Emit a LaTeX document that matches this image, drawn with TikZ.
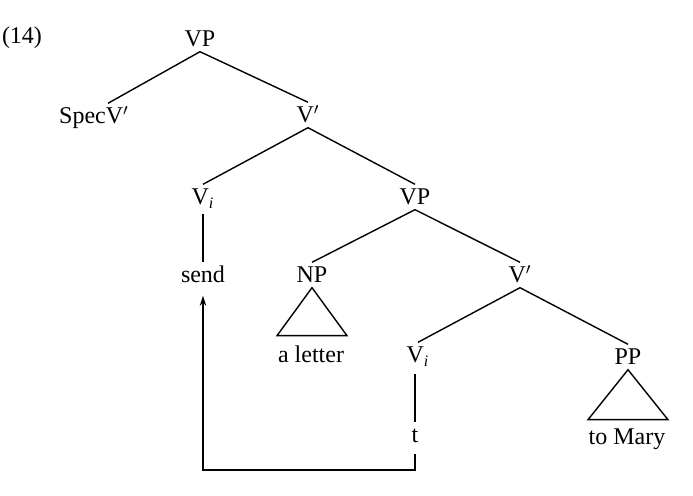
\documentclass[tikz,border=0pt]{standalone}
\usepackage{fontspec}
\setmainfont{Liberation Serif}
\usepackage{tikz}
\usetikzlibrary{arrows.meta}

\begin{document}
\begin{tikzpicture}[x=0.5pt, y=-0.5pt, >={Stealth[length=5pt,width=3.2pt]}, line width=0.7pt,
    lbl/.style={font=\fontsize{12}{14}\selectfont, inner sep=1pt, text height=9pt, text depth=1pt, anchor=base}]
        \useasboundingbox (0,0) rectangle (693,496);

        \node (num) [lbl] at (22,44) {(14)};
        \node (vp1) [lbl] at (200,47) {VP};
        \node (spec) [lbl] at (94,124) {SpecV$'$};
        \node (vb1) [lbl] at (308,123) {V$'$};
        \node (vi1) [lbl] at (203,205) {V\textsubscript{\textit{i}}};
        \node (vp2) [lbl] at (415,205) {VP};
        \node (send) [lbl] at (203,283) {send};
        \node (np) [lbl] at (312,283) {NP};
        \node (vb2) [lbl] at (520,283) {V$'$};
        \node (letter) [lbl] at (311,363) {a letter};
        \node (vi2) [lbl] at (418,363) {V\textsubscript{\textit{i}}};
        \node (pp) [lbl] at (628,365) {PP};
        \node (t) [lbl] at (415,443) {t};
        \node (mary) [lbl] at (627,445) {to Mary};

        \draw (vp1.south) -- ([xshift=7pt]spec.north);
        \draw (vp1.south) -- (vb1.north);
        \draw (vb1.south) -- (vi1.north);
        \draw (vb1.south) -- (vp2.north);
        \draw (vp2.south) -- (np.north);
        \draw (vp2.south) -- (vb2.north);
        \draw (vb2.south) -- (vi2.north);
        \draw (vb2.south) -- (pp.north);

        \draw[shorten <=2pt] (vi1.south) -- (send.north);
        \draw[shorten <=3pt] (vi2.south -| t) -- (t.north);

        % triangles
        \draw (np.south) -- ++(-35,48) -- ++(70,0) -- cycle;
        \draw (pp.south) -- ++(-40,50) -- ++(80,0) -- cycle;

        % movement
        \coordinate (bend) at (203,470);
        \draw[->, shorten >=4pt] ([yshift=-3pt]t.south) |- (bend) -- (send.south);
      \end{tikzpicture}
\end{document}
